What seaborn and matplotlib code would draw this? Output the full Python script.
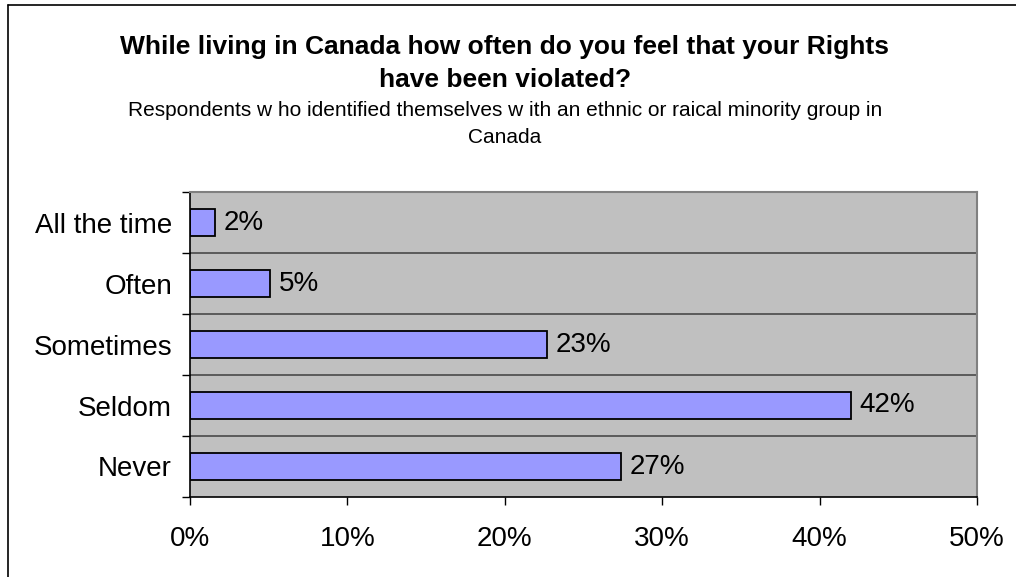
import matplotlib
matplotlib.use("Agg")
import matplotlib.pyplot as plt
from matplotlib.lines import Line2D
from matplotlib.ticker import FixedLocator, FuncFormatter
import seaborn as sns
import pandas as pd

categories = ["All the time", "Often", "Sometimes", "Seldom", "Never"]
shares = [1.6, 5.1, 22.7, 42.0, 27.4]
x_ticks = [0, 10, 20, 30, 40, 50]

title_line = "While living in Canada how often do you feel that your Rights\nhave been violated?"
subtitle_line = "Respondents w ho identified themselves w ith an ethnic or raical minority group in\nCanada"

sns.set_style("white")
plt.rcParams["font.family"] = ["Liberation Sans", "DejaVu Sans"]
plt.rcParams["text.color"] = "black"
plt.rcParams["xtick.color"] = "black"
plt.rcParams["ytick.color"] = "black"

df = pd.DataFrame({"category": categories, "share": shares})

fig = plt.figure(figsize=(10.16, 5.77), dpi=100)
fig.patch.set_facecolor("white")
ax = fig.add_axes([190 / 1016, 80 / 577, 787 / 1016, 305 / 577])
ax.set_facecolor("#C0C0C0")

sns.barplot(data=df, x="share", y="category", orient="h", ax=ax,
            color="#9999FF", edgecolor="black", linewidth=1.3,
            width=0.43, saturation=1)

ax.set_xlim(0, 50)
ax.set_ylim(len(categories) - 0.5, -0.5)
ax.set_xlabel("")
ax.set_ylabel("")

# value labels at the bar ends
for i, v in enumerate(shares):
    ax.text(v + 0.55, i, f"{v:.0f}%", va="center", ha="left", fontsize=20, color="black")

# horizontal separators between categories
for b in [i + 0.5 for i in range(len(categories) - 1)]:
    ax.axhline(b, color="#404040", linewidth=1.1, zorder=0.5)

ax.xaxis.set_major_locator(FixedLocator(x_ticks))
ax.xaxis.set_major_formatter(FuncFormatter(lambda v, p: f"{v:.0f}%"))
ax.tick_params(axis="x", which="major", direction="out", length=6, width=1,
               color="black", labelcolor="black", labelsize=20, pad=15, bottom=True)
ax.yaxis.set_minor_locator(FixedLocator([i - 0.5 for i in range(len(categories) + 1)]))
ax.tick_params(axis="y", which="minor", direction="out", length=6, width=1,
               color="black", left=True)
ax.tick_params(axis="y", which="major", length=0, labelsize=20, labelcolor="black", pad=13)

for side in ["left", "bottom"]:
    ax.spines[side].set_color("black")
    ax.spines[side].set_linewidth(1.2)
for side in ["top", "right"]:
    ax.spines[side].set_color("#808080")
    ax.spines[side].set_linewidth(1.5)
    ax.spines[side].set_visible(True)

fig.text(505 / 1016, 1 - 63.5 / 577, title_line, ha="center", va="center",
         fontsize=19, fontweight="bold", linespacing=1.46, color="black")
fig.text(505 / 1016, 1 - 124 / 577, subtitle_line, ha="center", va="center",
         fontsize=15, linespacing=1.58, color="black")

# outer chart frame
fig.add_artist(Line2D([8 / 1016, 8 / 1016], [0, 1 - 5 / 577], transform=fig.transFigure,
                      color="black", linewidth=1.2))
fig.add_artist(Line2D([8 / 1016, 1], [1 - 5 / 577, 1 - 5 / 577], transform=fig.transFigure,
                      color="black", linewidth=1.2))

fig.savefig("out.png", dpi=100, facecolor="white")
